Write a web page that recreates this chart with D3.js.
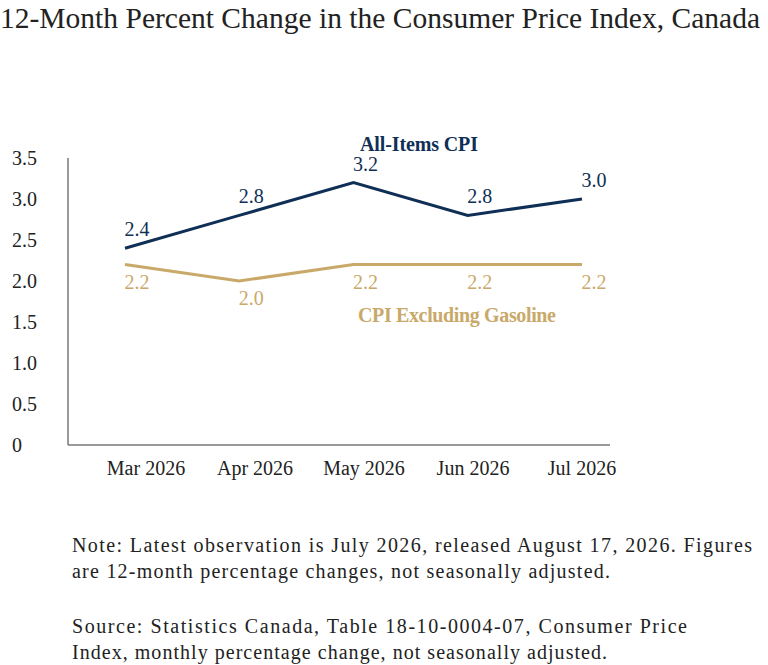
<!DOCTYPE html>
<html><head><meta charset="utf-8">
<script src="https://cdn.jsdelivr.net/npm/d3@7"></script>
<style>body{margin:0;background:#fff}svg{font-family:"Liberation Serif","DejaVu Serif",serif}</style>
</head><body><div id="div_vis"></div>
<script>
var months = ["Mar 2026", "Apr 2026", "May 2026", "Jun 2026", "Jul 2026"];
var allItems = [2.4, 2.8, 3.2, 2.8, 3.0];
var exGas = [2.2, 2.0, 2.2, 2.2, 2.2];
var yTicks = [0, 0.5, 1.0, 1.5, 2.0, 2.5, 3.0, 3.5];
var NAVY = "#0f2f56", GOLD = "#c9a96a";

var svg = d3.select("#div_vis").append("svg").attr("width", 768).attr("height", 665);
svg.append("text").attr("x", 0).attr("y", 28).attr("font-size", 29.5).attr("fill", "#222")
  .attr("textLength", 760).attr("lengthAdjust", "spacing")
  .text("12-Month Percent Change in the Consumer Price Index, Canada");

var y = d3.scaleLinear().domain([0, 3.5]).range([445, 158]);
var x = d3.scalePoint().domain(months).range([125, 582]);
var xl = d3.scalePoint().domain(months).range([146, 582]);

svg.append("line").attr("x1", 68).attr("x2", 68).attr("y1", 158).attr("y2", 445).attr("stroke", "#777").attr("stroke-width", 1.5);
svg.append("line").attr("x1", 68).attr("x2", 610).attr("y1", 445).attr("y2", 445).attr("stroke", "#777").attr("stroke-width", 1.5);

svg.selectAll(".yt").data(yTicks).enter().append("text")
  .attr("x", 12).attr("y", function(d){ return y(d) + 7; }).attr("font-size", 20).attr("fill", "#222")
  .text(function(d){ return d === 0 ? "0" : d.toFixed(1); });

svg.selectAll(".xt").data(months).enter().append("text")
  .attr("x", function(d){ return xl(d); }).attr("y", 475).attr("text-anchor", "middle")
  .attr("font-size", 20).attr("fill", "#222").text(function(d){ return d; });

var line = d3.line().x(function(d, i){ return x(months[i]); }).y(function(d){ return y(d); });
svg.append("path").datum(allItems).attr("d", line).attr("fill", "none").attr("stroke", NAVY).attr("stroke-width", 3);
svg.append("path").datum(exGas).attr("d", line).attr("fill", "none").attr("stroke", GOLD).attr("stroke-width", 3);

svg.selectAll(".la").data(allItems).enter().append("text")
  .attr("x", function(d, i){ return x(months[i]) + 12; }).attr("y", function(d){ return y(d) - 12; })
  .attr("text-anchor", "middle").attr("font-size", 20).attr("fill", NAVY).text(function(d){ return d.toFixed(1); });
svg.selectAll(".lg").data(exGas).enter().append("text")
  .attr("x", function(d, i){ return x(months[i]) + 12; }).attr("y", function(d){ return y(d) + 24; })
  .attr("text-anchor", "middle").attr("font-size", 20).attr("fill", GOLD).text(function(d){ return d.toFixed(1); });

svg.append("text").attr("x", 360).attr("y", 151).attr("font-size", 20).attr("font-weight", "bold").attr("fill", NAVY)
  .attr("textLength", 118).attr("lengthAdjust", "spacing").text("All-Items CPI");
svg.append("text").attr("x", 358).attr("y", 322).attr("font-size", 20).attr("font-weight", "bold").attr("fill", GOLD)
  .attr("textLength", 198).attr("lengthAdjust", "spacing").text("CPI Excluding Gasoline");

var notes = [
  ["Note: Latest observation is July 2026, released August 17, 2026. Figures", 556, 680],
  ["are 12-month percentage changes, not seasonally adjusted.", 582, 538],
  ["Source: Statistics Canada, Table 18-10-0004-07, Consumer Price", 637, 615],
  ["Index, monthly percentage change, not seasonally adjusted.", 663, 535]
];
svg.selectAll(".note").data(notes).enter().append("text")
  .attr("x", 72).attr("y", function(d){ return d[1] - 4; }).attr("font-size", 20).attr("fill", "#222")
  .attr("textLength", function(d){ return d[2]; }).attr("lengthAdjust", "spacing")
  .text(function(d){ return d[0]; });
</script></body></html>
